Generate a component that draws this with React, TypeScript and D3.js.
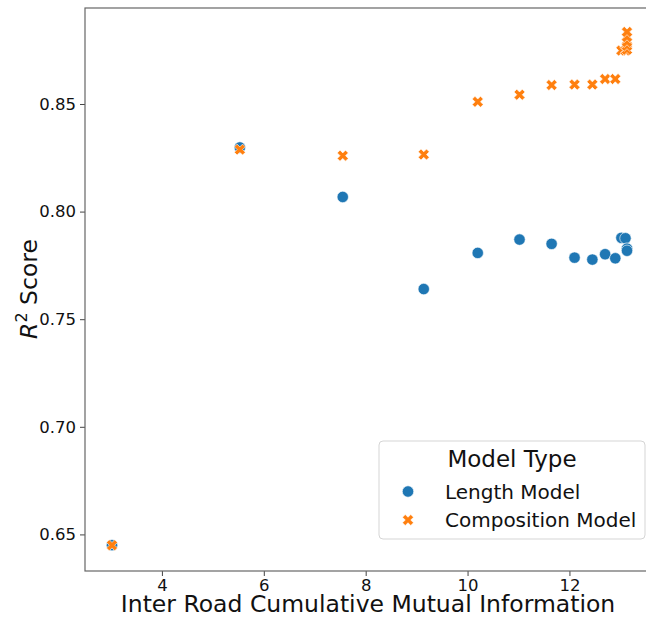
import * as d3 from 'd3';
import { useRef, useEffect } from 'react';

// Length Model points
const lengthX = [3.02, 5.53, 7.55, 9.14, 10.2, 11.02, 11.65, 12.1, 12.45, 12.7, 12.9, 13.02, 13.1, 13.13, 13.13];
const lengthY = [0.645, 0.8298, 0.8068, 0.764, 0.7808, 0.787, 0.785, 0.7786, 0.7777, 0.7802, 0.7783, 0.7878, 0.7876, 0.7828, 0.7818];

// Composition Model points
const compX = [3.02, 5.53, 7.55, 9.14, 10.2, 11.02, 11.65, 12.1, 12.45, 12.7, 12.9, 13.02, 13.1, 13.13, 13.13, 13.13, 13.13, 13.13];
const compY = [0.645, 0.8288, 0.826, 0.8265, 0.851, 0.8543, 0.8588, 0.859, 0.859, 0.8616, 0.8616, 0.8748, 0.8749, 0.8752, 0.877, 0.8788, 0.8811, 0.8835];

const xTicks = [4, 6, 8, 10, 12];
const yTicks = [0.65, 0.7, 0.75, 0.8, 0.85];

const seriesNames = ['Length Model', 'Composition Model'];
const colors = ['#1f77b4', '#ff7f0e'];

// matplotlib filled "X" marker, unit square centred at 0
const xMarker = (s: number) => {
  const pts = [[0.25, 0], [0.5, 0.25], [0.75, 0], [1, 0.25], [0.75, 0.5], [1, 0.75], [0.75, 1], [0.5, 0.75], [0.25, 1], [0, 0.75], [0.25, 0.5], [0, 0.25]];
  return 'M' + pts.map(p => `${(p[0] - 0.5) * s},${(p[1] - 0.5) * s}`).join('L') + 'Z';
};

export default function App() {
  const ref = useRef<SVGSVGElement>(null);

  useEffect(() => {
    const width = 646, height = 617;
    const left = 85, top = 8, bottom = 571;

    const svg = d3.select(ref.current);
    svg.selectAll('*').remove();
    svg.attr('width', width).attr('height', height);

    const x = d3.scaleLinear().domain([2.49, 13.66]).range([left, 654]);
    const y = d3.scaleLinear().domain([0.633, 0.8946]).range([bottom, top]);

    const font = 'DejaVu Sans, sans-serif';

    // axes
    const gx = svg.append('g')
      .attr('transform', `translate(0,${bottom})`)
      .call(d3.axisBottom(x).tickValues(xTicks).tickFormat(d3.format('d')).tickSize(5).tickSizeOuter(0).tickPadding(3));
    const gy = svg.append('g')
      .attr('transform', `translate(${left},0)`)
      .call(d3.axisLeft(y).tickValues(yTicks).tickFormat(d3.format('.2f')).tickSize(5).tickSizeOuter(0).tickPadding(4));
    [gx, gy].forEach(g => {
      g.select('.domain').remove();
      g.selectAll('line').attr('stroke', '#444').attr('stroke-width', 1);
      g.selectAll('text').attr('font-family', font).attr('font-size', 16.5).attr('fill', '#111');
    });

    // frame
    svg.append('rect')
      .attr('x', left).attr('y', top)
      .attr('width', 700).attr('height', bottom - top)
      .attr('fill', 'none').attr('stroke', '#666').attr('stroke-width', 1.2);

    const plot = svg.append('g');

    plot.selectAll('circle.len')
      .data(lengthX)
      .join('circle')
      .attr('class', 'len')
      .attr('cx', d => x(d))
      .attr('cy', (d, i) => y(lengthY[i]))
      .attr('r', 5.7)
      .attr('fill', colors[0])
      .attr('stroke', 'white')
      .attr('stroke-width', 0.6);

    plot.selectAll('path.comp')
      .data(compX)
      .join('path')
      .attr('class', 'comp')
      .attr('transform', (d, i) => `translate(${x(d)},${y(compY[i])})`)
      .attr('d', xMarker(11))
      .attr('fill', colors[1])
      .attr('stroke', 'white')
      .attr('stroke-width', 0.6);

    // axis labels
    svg.append('text')
      .attr('x', 368).attr('y', 612)
      .attr('text-anchor', 'middle')
      .attr('font-family', font).attr('font-size', 23.5).attr('fill', '#111')
      .text('Inter Road Cumulative Mutual Information');

    const yl = svg.append('text')
      .attr('transform', 'translate(37,289) rotate(-90)')
      .attr('text-anchor', 'middle')
      .attr('font-family', font).attr('font-size', 23.5).attr('fill', '#111');
    yl.append('tspan').attr('font-style', 'italic').text('R');
    yl.append('tspan').attr('font-size', 16).attr('dy', -10).text('2');
    yl.append('tspan').attr('dy', 10).text(' Score');

    // legend
    const lg = svg.append('g');
    lg.append('rect')
      .attr('x', 379).attr('y', 441).attr('width', 266).attr('height', 98)
      .attr('rx', 4)
      .attr('fill', 'white').attr('fill-opacity', 0.8)
      .attr('stroke', '#d5d5d5').attr('stroke-width', 1);
    lg.append('text')
      .attr('x', 512).attr('y', 467)
      .attr('text-anchor', 'middle')
      .attr('font-family', font).attr('font-size', 23).attr('fill', '#111')
      .text('Model Type');
    const rowY = [491.5, 520];
    lg.append('circle')
      .attr('cx', 408).attr('cy', rowY[0]).attr('r', 5.7)
      .attr('fill', colors[0]).attr('stroke', 'white').attr('stroke-width', 0.6);
    lg.append('path')
      .attr('transform', `translate(408,${rowY[1]})`)
      .attr('d', xMarker(11))
      .attr('fill', colors[1]).attr('stroke', 'white').attr('stroke-width', 0.6);
    lg.selectAll('text.item')
      .data(seriesNames)
      .join('text')
      .attr('class', 'item')
      .attr('x', 445)
      .attr('y', (d, i) => rowY[i] + 7)
      .attr('font-family', font).attr('font-size', 20).attr('fill', '#111')
      .text(d => d);
  }, []);

  return (
    <svg ref={ref} style={{ position: 'absolute', left: 0, top: 0 }}></svg>
  );
}
